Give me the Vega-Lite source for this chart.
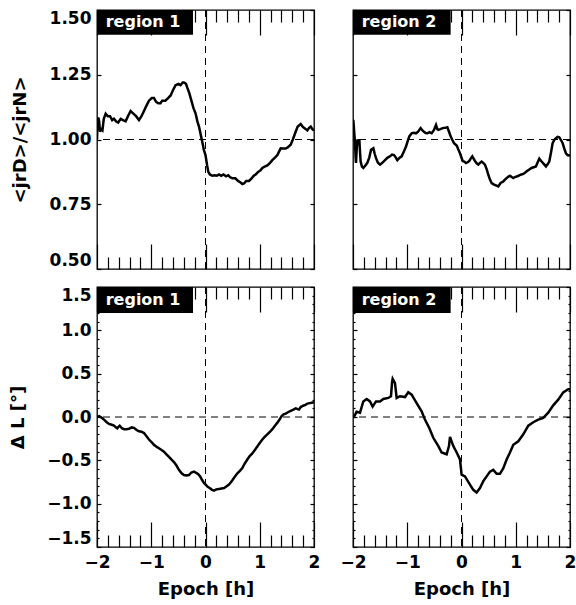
{
"$schema": "https://vega.github.io/schema/vega-lite/v6.json",
"padding": {"left": 8, "top": 8, "right": 0, "bottom": 2},
"config": {
 "view": {"stroke": "black", "strokeWidth": 1.3},
 "axis": {"domain": false, "grid": false, "minExtent": 0, "tickColor": "black", "tickWidth": 1.2, "labelFont": "DejaVu Sans", "labelFontSize": 17, "labelFontWeight": "bold", "labelColor": "black", "titleFont": "DejaVu Sans", "titleFontSize": 18, "titleFontWeight": "bold", "titleColor": "black", "labelFlush": false}
},
"datasets": {
 "curves": [
{"p":"a1","x":-2.0,"y":1.0},{"p":"a1","x":-1.99,"y":1.07},{"p":"a1","x":-1.975,"y":1.085},{"p":"a1","x":-1.96,"y":1.07},{"p":"a1","x":-1.945,"y":1.03},{"p":"a1","x":-1.925,"y":1.04},{"p":"a1","x":-1.9,"y":1.035},{"p":"a1","x":-1.875,"y":1.08},{"p":"a1","x":-1.84,"y":1.1},{"p":"a1","x":-1.8,"y":1.09},{"p":"a1","x":-1.76,"y":1.09},{"p":"a1","x":-1.72,"y":1.075},{"p":"a1","x":-1.687,"y":1.08},{"p":"a1","x":-1.65,"y":1.07},{"p":"a1","x":-1.61,"y":1.065},{"p":"a1","x":-1.564,"y":1.08},{"p":"a1","x":-1.52,"y":1.075},{"p":"a1","x":-1.472,"y":1.07},{"p":"a1","x":-1.43,"y":1.09},{"p":"a1","x":-1.38,"y":1.11},{"p":"a1","x":-1.33,"y":1.1},{"p":"a1","x":-1.28,"y":1.09},{"p":"a1","x":-1.226,"y":1.075},{"p":"a1","x":-1.18,"y":1.09},{"p":"a1","x":-1.134,"y":1.11},{"p":"a1","x":-1.09,"y":1.13},{"p":"a1","x":-1.042,"y":1.15},{"p":"a1","x":-0.99,"y":1.16},{"p":"a1","x":-0.95,"y":1.16},{"p":"a1","x":-0.91,"y":1.145},{"p":"a1","x":-0.87,"y":1.14},{"p":"a1","x":-0.83,"y":1.14},{"p":"a1","x":-0.797,"y":1.15},{"p":"a1","x":-0.74,"y":1.15},{"p":"a1","x":-0.69,"y":1.16},{"p":"a1","x":-0.643,"y":1.17},{"p":"a1","x":-0.6,"y":1.19},{"p":"a1","x":-0.551,"y":1.21},{"p":"a1","x":-0.5,"y":1.215},{"p":"a1","x":-0.459,"y":1.21},{"p":"a1","x":-0.42,"y":1.22},{"p":"a1","x":-0.397,"y":1.22},{"p":"a1","x":-0.36,"y":1.215},{"p":"a1","x":-0.336,"y":1.2},{"p":"a1","x":-0.3,"y":1.18},{"p":"a1","x":-0.26,"y":1.15},{"p":"a1","x":-0.22,"y":1.12},{"p":"a1","x":-0.182,"y":1.1},{"p":"a1","x":-0.15,"y":1.07},{"p":"a1","x":-0.12,"y":1.05},{"p":"a1","x":-0.09,"y":1.02},{"p":"a1","x":-0.059,"y":0.99},{"p":"a1","x":-0.03,"y":0.96},{"p":"a1","x":0.0,"y":0.94},{"p":"a1","x":0.03,"y":0.9},{"p":"a1","x":0.052,"y":0.875},{"p":"a1","x":0.08,"y":0.865},{"p":"a1","x":0.126,"y":0.86},{"p":"a1","x":0.17,"y":0.862},{"p":"a1","x":0.21,"y":0.86},{"p":"a1","x":0.249,"y":0.865},{"p":"a1","x":0.29,"y":0.86},{"p":"a1","x":0.33,"y":0.865},{"p":"a1","x":0.38,"y":0.858},{"p":"a1","x":0.42,"y":0.862},{"p":"a1","x":0.45,"y":0.855},{"p":"a1","x":0.495,"y":0.85},{"p":"a1","x":0.55,"y":0.85},{"p":"a1","x":0.6,"y":0.84},{"p":"a1","x":0.64,"y":0.835},{"p":"a1","x":0.68,"y":0.828},{"p":"a1","x":0.71,"y":0.83},{"p":"a1","x":0.75,"y":0.84},{"p":"a1","x":0.802,"y":0.84},{"p":"a1","x":0.85,"y":0.85},{"p":"a1","x":0.89,"y":0.86},{"p":"a1","x":0.925,"y":0.865},{"p":"a1","x":0.97,"y":0.875},{"p":"a1","x":1.01,"y":0.88},{"p":"a1","x":1.048,"y":0.89},{"p":"a1","x":1.09,"y":0.895},{"p":"a1","x":1.14,"y":0.9},{"p":"a1","x":1.19,"y":0.91},{"p":"a1","x":1.232,"y":0.92},{"p":"a1","x":1.28,"y":0.93},{"p":"a1","x":1.325,"y":0.94},{"p":"a1","x":1.36,"y":0.955},{"p":"a1","x":1.386,"y":0.966},{"p":"a1","x":1.43,"y":0.965},{"p":"a1","x":1.478,"y":0.965},{"p":"a1","x":1.52,"y":0.97},{"p":"a1","x":1.57,"y":0.98},{"p":"a1","x":1.61,"y":1.0},{"p":"a1","x":1.662,"y":1.03},{"p":"a1","x":1.7,"y":1.05},{"p":"a1","x":1.755,"y":1.06},{"p":"a1","x":1.79,"y":1.05},{"p":"a1","x":1.816,"y":1.045},{"p":"a1","x":1.85,"y":1.04},{"p":"a1","x":1.877,"y":1.035},{"p":"a1","x":1.91,"y":1.045},{"p":"a1","x":1.94,"y":1.05},{"p":"a1","x":1.97,"y":1.04},{"p":"a1","x":2.0,"y":1.035},
{"p":"a2","x":-2.0,"y":1.06},{"p":"a2","x":-1.994,"y":1.076},{"p":"a2","x":-1.975,"y":1.02},{"p":"a2","x":-1.963,"y":0.99},{"p":"a2","x":-1.952,"y":0.93},{"p":"a2","x":-1.945,"y":0.91},{"p":"a2","x":-1.93,"y":0.97},{"p":"a2","x":-1.914,"y":1.0},{"p":"a2","x":-1.895,"y":0.99},{"p":"a2","x":-1.883,"y":1.0},{"p":"a2","x":-1.87,"y":0.95},{"p":"a2","x":-1.859,"y":0.915},{"p":"a2","x":-1.835,"y":0.895},{"p":"a2","x":-1.81,"y":0.89},{"p":"a2","x":-1.77,"y":0.9},{"p":"a2","x":-1.736,"y":0.91},{"p":"a2","x":-1.7,"y":0.93},{"p":"a2","x":-1.668,"y":0.96},{"p":"a2","x":-1.625,"y":0.966},{"p":"a2","x":-1.6,"y":0.945},{"p":"a2","x":-1.576,"y":0.928},{"p":"a2","x":-1.54,"y":0.91},{"p":"a2","x":-1.502,"y":0.903},{"p":"a2","x":-1.46,"y":0.91},{"p":"a2","x":-1.41,"y":0.92},{"p":"a2","x":-1.36,"y":0.93},{"p":"a2","x":-1.318,"y":0.935},{"p":"a2","x":-1.28,"y":0.942},{"p":"a2","x":-1.244,"y":0.94},{"p":"a2","x":-1.21,"y":0.93},{"p":"a2","x":-1.183,"y":0.92},{"p":"a2","x":-1.14,"y":0.93},{"p":"a2","x":-1.103,"y":0.935},{"p":"a2","x":-1.06,"y":0.955},{"p":"a2","x":-1.023,"y":0.973},{"p":"a2","x":-0.99,"y":0.995},{"p":"a2","x":-0.962,"y":1.012},{"p":"a2","x":-0.919,"y":1.024},{"p":"a2","x":-0.88,"y":1.026},{"p":"a2","x":-0.839,"y":1.024},{"p":"a2","x":-0.8,"y":1.03},{"p":"a2","x":-0.753,"y":1.044},{"p":"a2","x":-0.72,"y":1.035},{"p":"a2","x":-0.692,"y":1.03},{"p":"a2","x":-0.66,"y":1.025},{"p":"a2","x":-0.63,"y":1.024},{"p":"a2","x":-0.59,"y":1.028},{"p":"a2","x":-0.55,"y":1.024},{"p":"a2","x":-0.507,"y":1.037},{"p":"a2","x":-0.47,"y":1.056},{"p":"a2","x":-0.445,"y":1.04},{"p":"a2","x":-0.427,"y":1.037},{"p":"a2","x":-0.39,"y":1.04},{"p":"a2","x":-0.347,"y":1.044},{"p":"a2","x":-0.3,"y":1.045},{"p":"a2","x":-0.261,"y":1.047},{"p":"a2","x":-0.23,"y":1.03},{"p":"a2","x":-0.2,"y":1.012},{"p":"a2","x":-0.168,"y":0.998},{"p":"a2","x":-0.138,"y":0.986},{"p":"a2","x":-0.089,"y":0.977},{"p":"a2","x":-0.06,"y":0.962},{"p":"a2","x":-0.028,"y":0.947},{"p":"a2","x":0.021,"y":0.917},{"p":"a2","x":0.05,"y":0.915},{"p":"a2","x":0.083,"y":0.909},{"p":"a2","x":0.115,"y":0.912},{"p":"a2","x":0.144,"y":0.917},{"p":"a2","x":0.175,"y":0.928},{"p":"a2","x":0.199,"y":0.935},{"p":"a2","x":0.225,"y":0.925},{"p":"a2","x":0.248,"y":0.917},{"p":"a2","x":0.28,"y":0.908},{"p":"a2","x":0.309,"y":0.903},{"p":"a2","x":0.34,"y":0.91},{"p":"a2","x":0.371,"y":0.915},{"p":"a2","x":0.4,"y":0.91},{"p":"a2","x":0.432,"y":0.903},{"p":"a2","x":0.465,"y":0.885},{"p":"a2","x":0.494,"y":0.864},{"p":"a2","x":0.525,"y":0.845},{"p":"a2","x":0.555,"y":0.832},{"p":"a2","x":0.6,"y":0.826},{"p":"a2","x":0.635,"y":0.823},{"p":"a2","x":0.678,"y":0.819},{"p":"a2","x":0.721,"y":0.832},{"p":"a2","x":0.77,"y":0.838},{"p":"a2","x":0.8,"y":0.845},{"p":"a2","x":0.832,"y":0.851},{"p":"a2","x":0.86,"y":0.856},{"p":"a2","x":0.893,"y":0.86},{"p":"a2","x":0.925,"y":0.855},{"p":"a2","x":0.955,"y":0.851},{"p":"a2","x":0.985,"y":0.855},{"p":"a2","x":1.016,"y":0.857},{"p":"a2","x":1.05,"y":0.86},{"p":"a2","x":1.09,"y":0.864},{"p":"a2","x":1.139,"y":0.867},{"p":"a2","x":1.17,"y":0.872},{"p":"a2","x":1.2,"y":0.877},{"p":"a2","x":1.25,"y":0.884},{"p":"a2","x":1.292,"y":0.89},{"p":"a2","x":1.33,"y":0.893},{"p":"a2","x":1.372,"y":0.896},{"p":"a2","x":1.4,"y":0.91},{"p":"a2","x":1.434,"y":0.926},{"p":"a2","x":1.455,"y":0.92},{"p":"a2","x":1.477,"y":0.915},{"p":"a2","x":1.52,"y":0.905},{"p":"a2","x":1.557,"y":0.896},{"p":"a2","x":1.59,"y":0.905},{"p":"a2","x":1.618,"y":0.915},{"p":"a2","x":1.65,"y":0.95},{"p":"a2","x":1.68,"y":0.986},{"p":"a2","x":1.71,"y":0.998},{"p":"a2","x":1.741,"y":1.005},{"p":"a2","x":1.772,"y":1.01},{"p":"a2","x":1.802,"y":1.008},{"p":"a2","x":1.834,"y":0.998},{"p":"a2","x":1.864,"y":0.986},{"p":"a2","x":1.895,"y":0.965},{"p":"a2","x":1.925,"y":0.947},{"p":"a2","x":1.955,"y":0.94},{"p":"a2","x":1.986,"y":0.938},{"p":"a2","x":2.0,"y":0.937},
{"p":"b1","x":-2.0,"y":0.0},{"p":"b1","x":-1.96,"y":0.01},{"p":"b1","x":-1.933,"y":0.0},{"p":"b1","x":-1.9,"y":-0.015},{"p":"b1","x":-1.871,"y":-0.03},{"p":"b1","x":-1.82,"y":-0.06},{"p":"b1","x":-1.779,"y":-0.08},{"p":"b1","x":-1.73,"y":-0.09},{"p":"b1","x":-1.687,"y":-0.1},{"p":"b1","x":-1.65,"y":-0.12},{"p":"b1","x":-1.625,"y":-0.13},{"p":"b1","x":-1.6,"y":-0.11},{"p":"b1","x":-1.582,"y":-0.1},{"p":"b1","x":-1.54,"y":-0.13},{"p":"b1","x":-1.502,"y":-0.14},{"p":"b1","x":-1.46,"y":-0.14},{"p":"b1","x":-1.41,"y":-0.135},{"p":"b1","x":-1.36,"y":-0.12},{"p":"b1","x":-1.318,"y":-0.125},{"p":"b1","x":-1.27,"y":-0.15},{"p":"b1","x":-1.226,"y":-0.165},{"p":"b1","x":-1.18,"y":-0.17},{"p":"b1","x":-1.134,"y":-0.185},{"p":"b1","x":-1.09,"y":-0.22},{"p":"b1","x":-1.042,"y":-0.26},{"p":"b1","x":-0.995,"y":-0.29},{"p":"b1","x":-0.95,"y":-0.32},{"p":"b1","x":-0.9,"y":-0.345},{"p":"b1","x":-0.858,"y":-0.36},{"p":"b1","x":-0.81,"y":-0.38},{"p":"b1","x":-0.766,"y":-0.4},{"p":"b1","x":-0.72,"y":-0.43},{"p":"b1","x":-0.674,"y":-0.46},{"p":"b1","x":-0.63,"y":-0.49},{"p":"b1","x":-0.582,"y":-0.52},{"p":"b1","x":-0.535,"y":-0.56},{"p":"b1","x":-0.49,"y":-0.61},{"p":"b1","x":-0.44,"y":-0.65},{"p":"b1","x":-0.397,"y":-0.67},{"p":"b1","x":-0.35,"y":-0.675},{"p":"b1","x":-0.305,"y":-0.67},{"p":"b1","x":-0.26,"y":-0.64},{"p":"b1","x":-0.213,"y":-0.63},{"p":"b1","x":-0.17,"y":-0.645},{"p":"b1","x":-0.133,"y":-0.66},{"p":"b1","x":-0.095,"y":-0.69},{"p":"b1","x":-0.059,"y":-0.73},{"p":"b1","x":-0.028,"y":-0.76},{"p":"b1","x":0.003,"y":-0.78},{"p":"b1","x":0.04,"y":-0.805},{"p":"b1","x":0.077,"y":-0.82},{"p":"b1","x":0.12,"y":-0.84},{"p":"b1","x":0.157,"y":-0.85},{"p":"b1","x":0.2,"y":-0.835},{"p":"b1","x":0.249,"y":-0.83},{"p":"b1","x":0.295,"y":-0.825},{"p":"b1","x":0.341,"y":-0.82},{"p":"b1","x":0.39,"y":-0.8},{"p":"b1","x":0.433,"y":-0.78},{"p":"b1","x":0.465,"y":-0.755},{"p":"b1","x":0.495,"y":-0.73},{"p":"b1","x":0.54,"y":-0.69},{"p":"b1","x":0.587,"y":-0.65},{"p":"b1","x":0.63,"y":-0.625},{"p":"b1","x":0.679,"y":-0.59},{"p":"b1","x":0.72,"y":-0.54},{"p":"b1","x":0.771,"y":-0.49},{"p":"b1","x":0.815,"y":-0.45},{"p":"b1","x":0.863,"y":-0.42},{"p":"b1","x":0.91,"y":-0.38},{"p":"b1","x":0.955,"y":-0.34},{"p":"b1","x":1.0,"y":-0.3},{"p":"b1","x":1.048,"y":-0.26},{"p":"b1","x":1.09,"y":-0.23},{"p":"b1","x":1.14,"y":-0.2},{"p":"b1","x":1.19,"y":-0.17},{"p":"b1","x":1.232,"y":-0.14},{"p":"b1","x":1.28,"y":-0.1},{"p":"b1","x":1.325,"y":-0.065},{"p":"b1","x":1.365,"y":-0.03},{"p":"b1","x":1.404,"y":0.01},{"p":"b1","x":1.44,"y":0.03},{"p":"b1","x":1.478,"y":0.04},{"p":"b1","x":1.52,"y":0.055},{"p":"b1","x":1.57,"y":0.07},{"p":"b1","x":1.62,"y":0.085},{"p":"b1","x":1.662,"y":0.1},{"p":"b1","x":1.7,"y":0.09},{"p":"b1","x":1.724,"y":0.085},{"p":"b1","x":1.755,"y":0.115},{"p":"b1","x":1.8,"y":0.13},{"p":"b1","x":1.84,"y":0.14},{"p":"b1","x":1.877,"y":0.154},{"p":"b1","x":1.92,"y":0.16},{"p":"b1","x":1.96,"y":0.165},{"p":"b1","x":2.0,"y":0.17},
{"p":"b2","x":-2.0,"y":0.0},{"p":"b2","x":-1.982,"y":0.0},{"p":"b2","x":-1.934,"y":0.06},{"p":"b2","x":-1.871,"y":0.05},{"p":"b2","x":-1.81,"y":0.18},{"p":"b2","x":-1.748,"y":0.208},{"p":"b2","x":-1.687,"y":0.18},{"p":"b2","x":-1.638,"y":0.12},{"p":"b2","x":-1.576,"y":0.18},{"p":"b2","x":-1.502,"y":0.18},{"p":"b2","x":-1.441,"y":0.208},{"p":"b2","x":-1.349,"y":0.22},{"p":"b2","x":-1.3,"y":0.24},{"p":"b2","x":-1.28,"y":0.4},{"p":"b2","x":-1.269,"y":0.44},{"p":"b2","x":-1.226,"y":0.39},{"p":"b2","x":-1.195,"y":0.22},{"p":"b2","x":-1.134,"y":0.24},{"p":"b2","x":-1.042,"y":0.23},{"p":"b2","x":-0.981,"y":0.285},{"p":"b2","x":-0.919,"y":0.257},{"p":"b2","x":-0.827,"y":0.16},{"p":"b2","x":-0.735,"y":0.065},{"p":"b2","x":-0.674,"y":-0.03},{"p":"b2","x":-0.594,"y":-0.127},{"p":"b2","x":-0.52,"y":-0.24},{"p":"b2","x":-0.427,"y":-0.336},{"p":"b2","x":-0.366,"y":-0.41},{"p":"b2","x":-0.274,"y":-0.43},{"p":"b2","x":-0.231,"y":-0.336},{"p":"b2","x":-0.212,"y":-0.23},{"p":"b2","x":-0.151,"y":-0.336},{"p":"b2","x":-0.089,"y":-0.41},{"p":"b2","x":-0.028,"y":-0.49},{"p":"b2","x":0.002,"y":-0.665},{"p":"b2","x":0.064,"y":-0.685},{"p":"b2","x":0.156,"y":-0.78},{"p":"b2","x":0.217,"y":-0.84},{"p":"b2","x":0.279,"y":-0.87},{"p":"b2","x":0.34,"y":-0.82},{"p":"b2","x":0.402,"y":-0.74},{"p":"b2","x":0.463,"y":-0.685},{"p":"b2","x":0.525,"y":-0.63},{"p":"b2","x":0.586,"y":-0.61},{"p":"b2","x":0.648,"y":-0.655},{"p":"b2","x":0.709,"y":-0.655},{"p":"b2","x":0.771,"y":-0.59},{"p":"b2","x":0.832,"y":-0.49},{"p":"b2","x":0.893,"y":-0.41},{"p":"b2","x":0.955,"y":-0.32},{"p":"b2","x":1.047,"y":-0.28},{"p":"b2","x":1.139,"y":-0.2},{"p":"b2","x":1.231,"y":-0.1},{"p":"b2","x":1.323,"y":-0.06},{"p":"b2","x":1.415,"y":-0.03},{"p":"b2","x":1.507,"y":-0.01},{"p":"b2","x":1.599,"y":0.05},{"p":"b2","x":1.691,"y":0.135},{"p":"b2","x":1.783,"y":0.2},{"p":"b2","x":1.875,"y":0.284},{"p":"b2","x":1.967,"y":0.32},{"p":"b2","x":2.0,"y":0.32}
 ]
},
"columns": 2,
"align": "each",
"spacing": {"row": 14, "column": 18},
"concat": [
 {
  "width": 217, "height": 259,
  "data": {"name": "curves"},
  "resolve": {"axis": {"x": "independent", "y": "independent"}},
  "layer": [
   {"transform": [{"filter": "datum.p == 'a1'"}],
    "mark": {"type": "line", "color": "black", "strokeWidth": 2.5, "clip": true},
    "encoding": {
     "x": {"field": "x", "type": "quantitative", "scale": {"domain": [-2, 2], "nice": false, "zero": false}, "axis": {"orient": "bottom", "values": [-2, -1, 0, 1, 2], "tickSize": -25, "labels": false, "title": null}},
     "y": {"field": "y", "type": "quantitative", "scale": {"domain": [0.5, 1.5], "nice": false, "zero": false}, "axis": {"orient": "left", "values": [0.5, 0.75, 1, 1.25, 1.5], "tickSize": -4, "labelPadding": 10, "format": ".2f", "labelFlush": true, "title": "<jrD>/<jrN>", "titlePadding": 20}}
    }},
   {"data": {"values": [{}]}, "mark": {"type": "rule", "color": "black", "strokeWidth": 1, "strokeDash": [7, 5]},
    "encoding": {"x": {"datum": 0, "type": "quantitative", "axis": {"orient": "top", "values": [-2, -1, 0, 1, 2], "tickSize": -25, "labels": false, "title": null}}}},
   {"data": {"values": [{}]}, "mark": {"type": "rule", "color": "black", "strokeWidth": 1, "strokeDash": [7, 5]},
    "encoding": {"y": {"datum": 1, "type": "quantitative", "axis": {"orient": "right", "values": [0.5, 0.75, 1, 1.25, 1.5], "tickSize": -4, "labels": false, "title": null}}}},
   {"data": {"values": [{}]}, "mark": {"type": "rect", "color": "black"},
    "encoding": {
     "x": {"datum": -2, "type": "quantitative", "axis": {"orient": "bottom", "values": [-1.8, -1.6, -1.4, -1.2, -0.8, -0.6, -0.4, -0.2, 0.2, 0.4, 0.6, 0.8, 1.2, 1.4, 1.6, 1.8], "tickSize": -12, "labels": false, "title": null}},
     "x2": {"datum": -0.23},
     "y": {"datum": 1.404, "type": "quantitative", "axis": null},
     "y2": {"datum": 1.5}
    }},
   {"data": {"values": [{"label": "region 1"}]}, "mark": {"type": "text", "color": "white", "align": "left", "baseline": "middle", "font": "DejaVu Sans", "fontWeight": "bold", "fontSize": 16},
    "encoding": {
     "x": {"datum": -1.84, "type": "quantitative", "axis": {"orient": "top", "values": [-1.8, -1.6, -1.4, -1.2, -0.8, -0.6, -0.4, -0.2, 0.2, 0.4, 0.6, 0.8, 1.2, 1.4, 1.6, 1.8], "tickSize": -12, "labels": false, "title": null}},
     "y": {"datum": 1.452, "type": "quantitative", "axis": null},
     "text": {"field": "label"}
    }}
  ]
 },
 {
  "width": 217, "height": 259,
  "data": {"name": "curves"},
  "resolve": {"axis": {"x": "independent", "y": "independent"}},
  "layer": [
   {"transform": [{"filter": "datum.p == 'a2'"}],
    "mark": {"type": "line", "color": "black", "strokeWidth": 2.5, "clip": true},
    "encoding": {
     "x": {"field": "x", "type": "quantitative", "scale": {"domain": [-2, 2], "nice": false, "zero": false}, "axis": {"orient": "bottom", "values": [-2, -1, 0, 1, 2], "tickSize": -25, "labels": false, "title": null}},
     "y": {"field": "y", "type": "quantitative", "scale": {"domain": [0.5, 1.5], "nice": false, "zero": false}, "axis": {"orient": "left", "values": [0.5, 0.75, 1, 1.25, 1.5], "tickSize": -4, "labels": false, "title": null}}
    }},
   {"data": {"values": [{}]}, "mark": {"type": "rule", "color": "black", "strokeWidth": 1, "strokeDash": [7, 5]},
    "encoding": {"x": {"datum": 0, "type": "quantitative", "axis": {"orient": "top", "values": [-2, -1, 0, 1, 2], "tickSize": -25, "labels": false, "title": null}}}},
   {"data": {"values": [{}]}, "mark": {"type": "rule", "color": "black", "strokeWidth": 1, "strokeDash": [7, 5]},
    "encoding": {"y": {"datum": 1, "type": "quantitative", "axis": {"orient": "right", "values": [0.5, 0.75, 1, 1.25, 1.5], "tickSize": -4, "labels": false, "title": null}}}},
   {"data": {"values": [{}]}, "mark": {"type": "rect", "color": "black"},
    "encoding": {
     "x": {"datum": -2, "type": "quantitative", "axis": {"orient": "bottom", "values": [-1.8, -1.6, -1.4, -1.2, -0.8, -0.6, -0.4, -0.2, 0.2, 0.4, 0.6, 0.8, 1.2, 1.4, 1.6, 1.8], "tickSize": -12, "labels": false, "title": null}},
     "x2": {"datum": -0.2},
     "y": {"datum": 1.404, "type": "quantitative", "axis": null},
     "y2": {"datum": 1.5}
    }},
   {"data": {"values": [{"label": "region 2"}]}, "mark": {"type": "text", "color": "white", "align": "left", "baseline": "middle", "font": "DejaVu Sans", "fontWeight": "bold", "fontSize": 16},
    "encoding": {
     "x": {"datum": -1.84, "type": "quantitative", "axis": {"orient": "top", "values": [-1.8, -1.6, -1.4, -1.2, -0.8, -0.6, -0.4, -0.2, 0.2, 0.4, 0.6, 0.8, 1.2, 1.4, 1.6, 1.8], "tickSize": -12, "labels": false, "title": null}},
     "y": {"datum": 1.452, "type": "quantitative", "axis": null},
     "text": {"field": "label"}
    }}
  ]
 },
 {
  "width": 217, "height": 260,
  "data": {"name": "curves"},
  "resolve": {"axis": {"x": "independent", "y": "independent"}},
  "layer": [
   {"transform": [{"filter": "datum.p == 'b1'"}],
    "mark": {"type": "line", "color": "black", "strokeWidth": 2.5, "clip": true},
    "encoding": {
     "x": {"field": "x", "type": "quantitative", "scale": {"domain": [-2, 2], "nice": false, "zero": false}, "axis": {"orient": "bottom", "values": [-2, -1, 0, 1, 2], "tickSize": -25, "labelPadding": 32, "format": "d", "title": "Epoch [h]", "titlePadding": 10}},
     "y": {"field": "y", "type": "quantitative", "scale": {"domain": [-1.5, 1.5], "nice": false, "zero": false}, "axis": {"orient": "left", "values": [-1.5, -1, -0.5, 0, 0.5, 1, 1.5], "tickSize": -4, "labelPadding": 10, "format": ".1f", "labelFlush": true, "title": "Δ L [°]", "titlePadding": 19}}
    }},
   {"data": {"values": [{}]}, "mark": {"type": "rule", "color": "black", "strokeWidth": 1, "strokeDash": [7, 5]},
    "encoding": {"x": {"datum": 0, "type": "quantitative", "axis": {"orient": "top", "values": [-2, -1, 0, 1, 2], "tickSize": -25, "labels": false, "title": null}}}},
   {"data": {"values": [{}]}, "mark": {"type": "rule", "color": "black", "strokeWidth": 1, "strokeDash": [7, 5]},
    "encoding": {"y": {"datum": 0, "type": "quantitative", "axis": {"orient": "right", "values": [-1.5, -1, -0.5, 0, 0.5, 1, 1.5], "tickSize": -4, "labels": false, "title": null}}}},
   {"data": {"values": [{}]}, "mark": {"type": "rect", "color": "black"},
    "encoding": {
     "x": {"datum": -2, "type": "quantitative", "axis": {"orient": "bottom", "values": [-1.8, -1.6, -1.4, -1.2, -0.8, -0.6, -0.4, -0.2, 0.2, 0.4, 0.6, 0.8, 1.2, 1.4, 1.6, 1.8], "tickSize": -12, "labels": false, "title": null}},
     "x2": {"datum": -0.23},
     "y": {"datum": 1.2, "type": "quantitative", "axis": {"orient": "left", "values": [-1.4, -1.3, -1.2, -1.1, -0.9, -0.8, -0.7, -0.6, -0.4, -0.3, -0.2, -0.1, 0.1, 0.2, 0.3, 0.4, 0.6, 0.7, 0.8, 0.9, 1.1, 1.2, 1.3, 1.4], "tickSize": -2, "labels": false, "title": null}},
     "y2": {"datum": 1.5}
    }},
   {"data": {"values": [{"label": "region 1"}]}, "mark": {"type": "text", "color": "white", "align": "left", "baseline": "middle", "font": "DejaVu Sans", "fontWeight": "bold", "fontSize": 16},
    "encoding": {
     "x": {"datum": -1.84, "type": "quantitative", "axis": {"orient": "top", "values": [-1.8, -1.6, -1.4, -1.2, -0.8, -0.6, -0.4, -0.2, 0.2, 0.4, 0.6, 0.8, 1.2, 1.4, 1.6, 1.8], "tickSize": -12, "labels": false, "title": null}},
     "y": {"datum": 1.35, "type": "quantitative", "axis": {"orient": "right", "values": [-1.4, -1.3, -1.2, -1.1, -0.9, -0.8, -0.7, -0.6, -0.4, -0.3, -0.2, -0.1, 0.1, 0.2, 0.3, 0.4, 0.6, 0.7, 0.8, 0.9, 1.1, 1.2, 1.3, 1.4], "tickSize": -2, "labels": false, "title": null}},
     "text": {"field": "label"}
    }}
  ]
 },
 {
  "width": 217, "height": 260,
  "data": {"name": "curves"},
  "resolve": {"axis": {"x": "independent", "y": "independent"}},
  "layer": [
   {"transform": [{"filter": "datum.p == 'b2'"}],
    "mark": {"type": "line", "color": "black", "strokeWidth": 2.5, "clip": true},
    "encoding": {
     "x": {"field": "x", "type": "quantitative", "scale": {"domain": [-2, 2], "nice": false, "zero": false}, "axis": {"orient": "bottom", "values": [-2, -1, 0, 1, 2], "tickSize": -25, "labelPadding": 32, "format": "d", "title": "Epoch [h]", "titlePadding": 10}},
     "y": {"field": "y", "type": "quantitative", "scale": {"domain": [-1.5, 1.5], "nice": false, "zero": false}, "axis": {"orient": "left", "values": [-1.5, -1, -0.5, 0, 0.5, 1, 1.5], "tickSize": -4, "labels": false, "title": null}}
    }},
   {"data": {"values": [{}]}, "mark": {"type": "rule", "color": "black", "strokeWidth": 1, "strokeDash": [7, 5]},
    "encoding": {"x": {"datum": 0, "type": "quantitative", "axis": {"orient": "top", "values": [-2, -1, 0, 1, 2], "tickSize": -25, "labels": false, "title": null}}}},
   {"data": {"values": [{}]}, "mark": {"type": "rule", "color": "black", "strokeWidth": 1, "strokeDash": [7, 5]},
    "encoding": {"y": {"datum": 0, "type": "quantitative", "axis": {"orient": "right", "values": [-1.5, -1, -0.5, 0, 0.5, 1, 1.5], "tickSize": -4, "labels": false, "title": null}}}},
   {"data": {"values": [{}]}, "mark": {"type": "rect", "color": "black"},
    "encoding": {
     "x": {"datum": -2, "type": "quantitative", "axis": {"orient": "bottom", "values": [-1.8, -1.6, -1.4, -1.2, -0.8, -0.6, -0.4, -0.2, 0.2, 0.4, 0.6, 0.8, 1.2, 1.4, 1.6, 1.8], "tickSize": -12, "labels": false, "title": null}},
     "x2": {"datum": -0.2},
     "y": {"datum": 1.2, "type": "quantitative", "axis": {"orient": "left", "values": [-1.4, -1.3, -1.2, -1.1, -0.9, -0.8, -0.7, -0.6, -0.4, -0.3, -0.2, -0.1, 0.1, 0.2, 0.3, 0.4, 0.6, 0.7, 0.8, 0.9, 1.1, 1.2, 1.3, 1.4], "tickSize": -2, "labels": false, "title": null}},
     "y2": {"datum": 1.5}
    }},
   {"data": {"values": [{"label": "region 2"}]}, "mark": {"type": "text", "color": "white", "align": "left", "baseline": "middle", "font": "DejaVu Sans", "fontWeight": "bold", "fontSize": 16},
    "encoding": {
     "x": {"datum": -1.84, "type": "quantitative", "axis": {"orient": "top", "values": [-1.8, -1.6, -1.4, -1.2, -0.8, -0.6, -0.4, -0.2, 0.2, 0.4, 0.6, 0.8, 1.2, 1.4, 1.6, 1.8], "tickSize": -12, "labels": false, "title": null}},
     "y": {"datum": 1.35, "type": "quantitative", "axis": {"orient": "right", "values": [-1.4, -1.3, -1.2, -1.1, -0.9, -0.8, -0.7, -0.6, -0.4, -0.3, -0.2, -0.1, 0.1, 0.2, 0.3, 0.4, 0.6, 0.7, 0.8, 0.9, 1.1, 1.2, 1.3, 1.4], "tickSize": -2, "labels": false, "title": null}},
     "text": {"field": "label"}
    }}
  ]
 }
]
}
